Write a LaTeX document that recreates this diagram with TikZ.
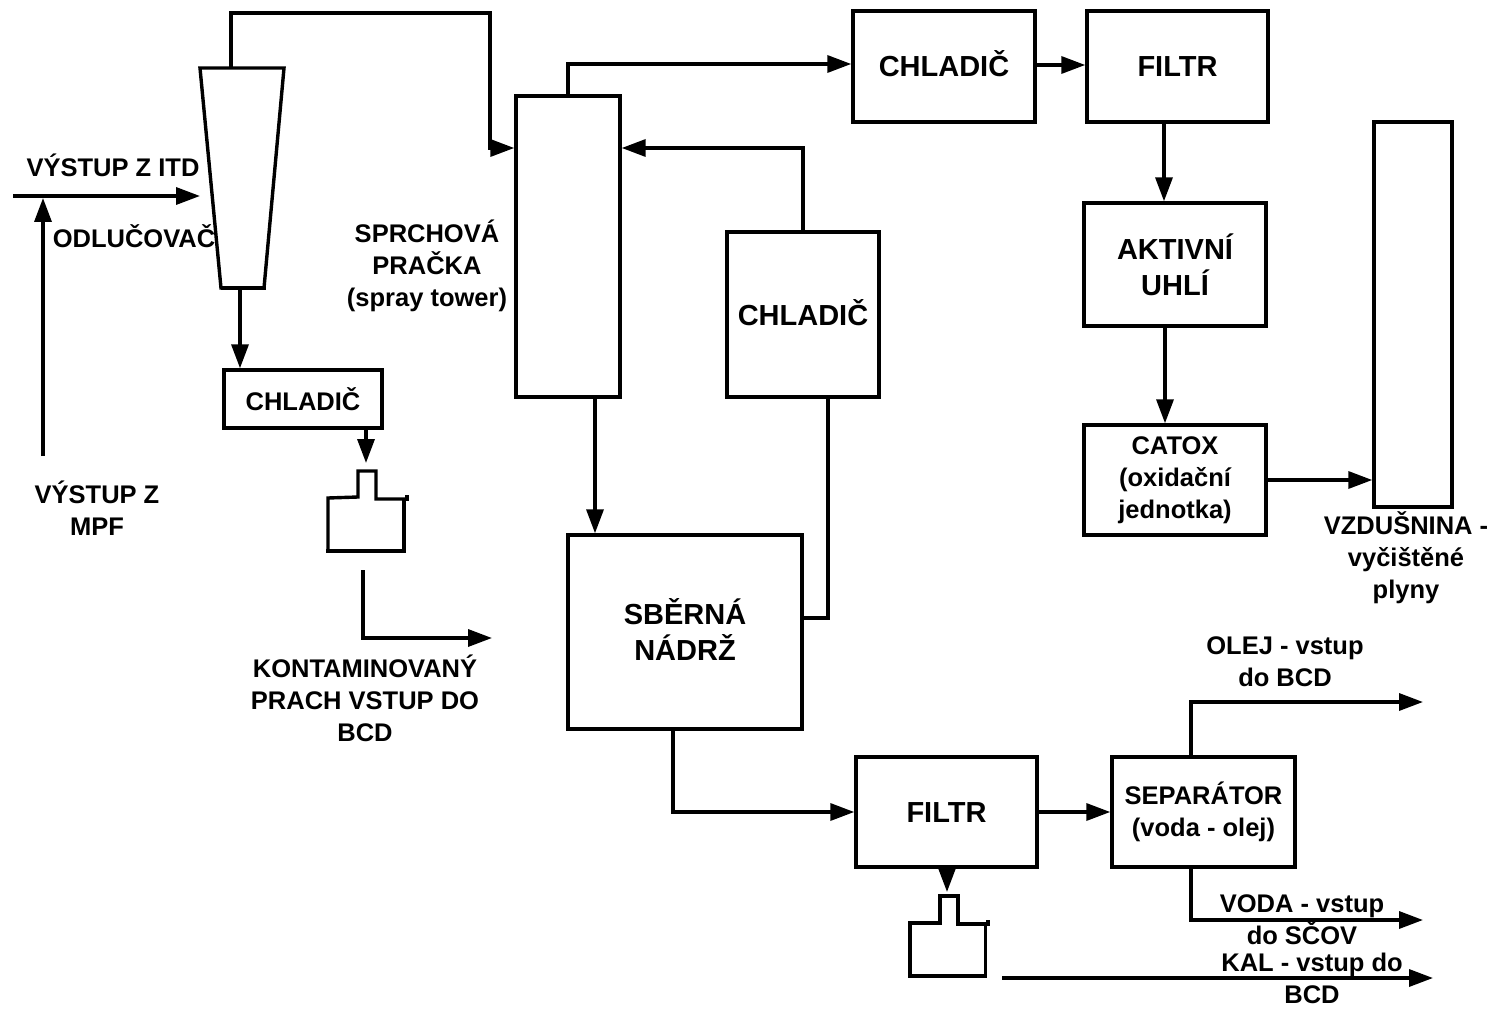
\documentclass[tikz,border=0pt]{standalone}
\usepackage{fontspec}
\setmainfont{Liberation Sans}
\usetikzlibrary{arrows.meta}
\begin{document}
\begin{tikzpicture}[x=1pt,y=-1pt,line width=3.4pt,
  arr/.style={-{Triangle[length=24pt,width=17pt]}},
  box/.style={draw,rectangle,inner sep=0pt,align=center,font=\bfseries\fontsize{29}{36}\selectfont},
  sbox/.style={box,font=\bfseries\fontsize{25.5}{32}\selectfont},
  lbl/.style={inner sep=0pt,align=center,font=\bfseries\fontsize{25.5}{32}\selectfont}]
\useasboundingbox (0,0) rectangle (1491,1011);

% cyclone separator
\draw (200,68) -- (284,68) -- (264,288) -- (221,288) -- (200,68) -- cycle;
\draw (221,288) -- (266,288);
\coordinate (cycTop) at (231,68);
\coordinate (cycBot) at (240,288);
\coordinate (cycIn) at (200,196);
\coordinate (itdStart) at (13,196);
\coordinate (mpfStart) at (43,456);
\coordinate (mpfEnd) at (43,198);

% boxes
\node[sbox,minimum width=158pt,minimum height=58pt] (sch) at (303,399) {CHLADIČ};
\node[draw,inner sep=0pt,minimum width=104pt,minimum height=301pt] (tower) at (568,246.5) {};
\node[box,minimum width=182pt,minimum height=111pt,text height=21pt,text depth=0pt] (chlA) at (944,66.5) {CHLADIČ};
\node[box,minimum width=181pt,minimum height=111pt,text height=21pt,text depth=0pt] (filA) at (1177.5,66.5) {FILTR};
\node[box,minimum width=182pt,minimum height=123pt] (akt) at (1175,264.5) {AKTIVNÍ\\UHLÍ};
\node[sbox,minimum width=182pt,minimum height=110pt] (catox) at (1175,480) {CATOX\\(oxidační\\jednotka)};
\node[draw,inner sep=0pt,minimum width=78pt,minimum height=385pt] (chim) at (1413,314.5) {};
\node[box,minimum width=152pt,minimum height=165pt,text height=21pt,text depth=0pt] (chlB) at (803,314.5) {CHLADIČ};
\node[draw,inner sep=0pt,minimum width=234pt,minimum height=194pt] (tank) at (685,632) {};
\node[box,draw=none] (tankText) at (685,630) {SBĚRNÁ\\NÁDRŽ};
\node[box,minimum width=181pt,minimum height=110pt,text height=21pt,text depth=0pt] (filB) at (946.5,812) {FILTR};
\node[sbox,minimum width=183pt,minimum height=110pt] (sep) at (1203.5,812) {SEPARÁTOR\\(voda - olej)};

% dust bins
\draw (328,551) -- (328,498) -- (358,497) -- (358,471) -- (376,471) -- (376,499) -- (407,499);
\draw (407,495) -- (407,501);
\draw (404,499) -- (404,551) -- (326.3,551);
\coordinate (bin1Top) at (366,463);
\draw (910,976) -- (910,923) -- (940,923) -- (940,896) -- (958,896) -- (958,924) -- (988,924);
\draw (988,920) -- (988,926);
\draw (985.5,924) -- (985.5,976) -- (908.3,976);
\coordinate (bin2Top) at (947,892);

% free ends
\coordinate (dustStart) at (363,570);
\coordinate (dustEnd) at (492,638);
\coordinate (oilEnd) at (1423,702);
\coordinate (waterEnd) at (1423,920);
\coordinate (kalStart) at (1002,978);
\coordinate (kalEnd) at (1433,978);

% connectors
\draw[arr] (itdStart) -- (cycIn);
\draw[arr] (mpfStart) -- (mpfEnd);
\draw[arr] (cycTop) -- (231,13) -- (490,13) -- (490,148) -- (tower.west |- 0,148);
\draw[arr] (cycBot) -- (240,0 |- sch.north);
\draw[arr] (366,0 |- sch.south) -- (bin1Top);
\draw[arr] (dustStart) -- (dustStart |- dustEnd) -- (dustEnd);
\draw[arr] (tower.north) -- (568,64) -- (chlA.west |- 0,64);
\draw[arr] (chlA.east |- 0,65) -- (filA.west |- 0,65);
\draw[arr] (1164,0 |- filA.south) -- (1164,0 |- akt.north);
\draw[arr] (1165,0 |- akt.south) -- (1165,0 |- catox.north);
\draw[arr] (catox.east) -- (chim.west |- catox.east);
\draw[arr] (chlB.north) -- (803,148) -- (tower.east |- 0,148);
\draw[arr] (595,0 |- tower.south) -- (595,0 |- tank.north);
\draw (828,0 |- chlB.south) -- (828,618) -- (tank.east |- 0,618);
\draw[arr] (673,0 |- tank.south) -- (673,812) -- (filB.west);
\draw[arr] (filB.east) -- (sep.west);
\draw[arr] (947,0 |- filB.south) -- (bin2Top);
\draw[arr] (1191,0 |- sep.north) -- (1191,0 |- oilEnd) -- (oilEnd);
\draw[arr] (1191,0 |- sep.south) -- (1191,0 |- waterEnd) -- (waterEnd);
\draw[arr] (kalStart) -- (kalEnd);

% labels
\node[lbl] (lItd) at (113,165) {VÝSTUP Z ITD};
\node[lbl] (lOdl) at (134,236) {ODLUČOVAČ};
\node[lbl] (lMpf) at (97,508) {VÝSTUP Z\\MPF};
\node[lbl] (lSpr) at (427,266) {SPRCHOVÁ\\PRAČKA\\(spray tower)};
\node[lbl] (lKon) at (365,698) {KONTAMINOVANÝ\\PRACH VSTUP DO\\BCD};
\node[lbl] (lVzd) at (1406,558) {VZDUŠNINA -\\vyčištěné\\plyny};
\node[lbl] (lOlej) at (1285,662) {OLEJ - vstup\\do BCD};
\node[lbl] (lVoda) at (1302,920) {VODA - vstup\\do SČOV};
\node[lbl] (lKal) at (1312,978) {KAL - vstup do\\BCD};
\end{tikzpicture}
\end{document}
